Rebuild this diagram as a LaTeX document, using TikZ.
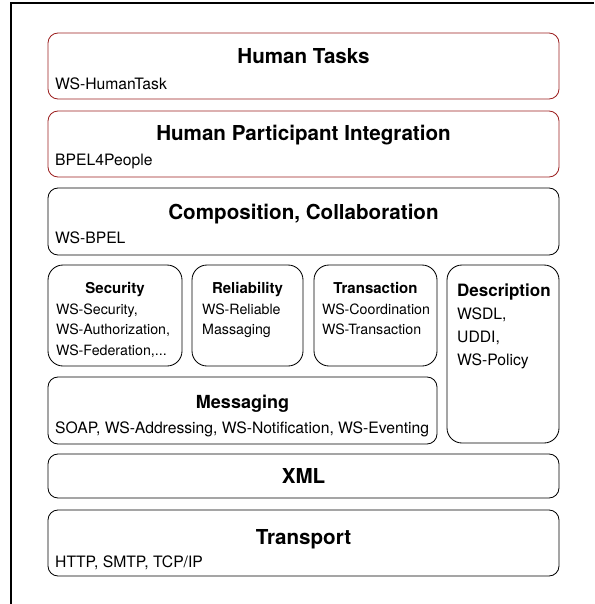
\documentclass[tikz,border=0pt]{standalone}
\usepackage{fontspec}
\setmainfont{TeX Gyre Heros}
\definecolor{taskred}{RGB}{155,30,30}

\begin{document}
\begin{tikzpicture}[x=1pt,y=-1pt,
		layer/.style={rectangle, draw, rounded corners=10pt, inner sep=0pt, line width=0.85pt},
		redlayer/.style={layer, draw=taskred},
		block/.style={layer, rounded corners=15pt},
		bigtitle/.style={anchor=base, inner sep=0pt, font=\fontsize{20.6}{24}\selectfont\bfseries},
		smalltitle/.style={anchor=base, inner sep=0pt, font=\fontsize{15}{18}\selectfont\bfseries},
		body/.style={anchor=base west, inner sep=0pt, font=\fontsize{15.7}{18}\selectfont},
		smallbody/.style={anchor=base west, inner sep=0pt, font=\fontsize{14.2}{17}\selectfont}]
		\useasboundingbox (0,0) rectangle (594,604);
		\draw[line width=1.2pt] (11,604) -- (11,3) -- (594,3);

		% upper layers
		\node[redlayer, minimum width=511pt, minimum height=66pt] (tasks) at (303.5,66) {};
		\node[bigtitle] (taskstitle) at (303.5,64) {Human Tasks};
		\node[body] (tasksbody) at (55,89.5) {WS-HumanTask};

		\node[redlayer, minimum width=511pt, minimum height=66pt] (people) at (303.5,144) {};
		\node[bigtitle] (peopletitle) at (303.5,141) {Human Participant Integration};
		\node[body] (peoplebody) at (55,165) {BPEL4People};

		\node[layer, minimum width=511pt, minimum height=67pt] (bpel) at (303.5,221.5) {};
		\node[bigtitle] (bpeltitle) at (303.5,219) {Composition, Collaboration};
		\node[body] (bpelbody) at (55,243) {WS-BPEL};

		% middle blocks
		\node[block, minimum width=134pt, minimum height=101pt] (sec) at (115,315.5) {};
		\node[smalltitle] (sectitle) at (115,293.5) {Security};
		\node[smallbody] (sec1) at (56,314) {WS-Security,};
		\node[smallbody] (sec2) at (56,334) {WS-Authorization,};
		\node[smallbody] (sec3) at (56,355) {WS-Federation,...};

		\node[block, minimum width=111pt, minimum height=101pt] (rel) at (247.5,315.5) {};
		\node[smalltitle] (reltitle) at (247.5,293.5) {Reliability};
		\node[smallbody] (rel1) at (202,314) {WS-Reliable};
		\node[smallbody] (rel2) at (202,334) {Massaging};

		\node[block, minimum width=123pt, minimum height=101pt] (trans) at (375.5,315.5) {};
		\node[smalltitle] (transtitle) at (375.5,293.5) {Transaction};
		\node[smallbody] (trans1) at (322,314) {WS-Coordination};
		\node[smallbody] (trans2) at (322,334) {WS-Transaction};

		\node[block, minimum width=112pt, minimum height=178pt] (desc) at (503,354) {};
		\node[anchor=base west, inner sep=0pt, font=\fontsize{17}{20}\selectfont\bfseries] (desctitle) at (457,296) {Description};
		\node[body] (desc1) at (457,319.5) {WSDL,};
		\node[body] (desc2) at (457,342.5) {UDDI,};
		\node[body] (desc3) at (457,365.5) {WS-Policy};

		\node[layer, minimum width=389pt, minimum height=67pt] (msg) at (242.5,410.5) {};
		\node[anchor=base, inner sep=0pt, font=\fontsize{18}{22}\selectfont\bfseries] (msgtitle) at (242.5,408.5) {Messaging};
		\node[body] (msgbody) at (55,433.5) {SOAP, WS-Addressing, WS-Notification, WS-Eventing};

		% lower layers
		\node[layer, minimum width=511pt, minimum height=44pt] (xml) at (303.5,476) {};
		\node[bigtitle] (xmltitle) at (303.5,483) {XML};

		\node[layer, minimum width=511pt, minimum height=66pt] (transport) at (303.5,543) {};
		\node[bigtitle] (transporttitle) at (303.5,544) {Transport};
		\node[body] (transportbody) at (55,567) {HTTP, SMTP, TCP/IP};
	\end{tikzpicture}
\end{document}
